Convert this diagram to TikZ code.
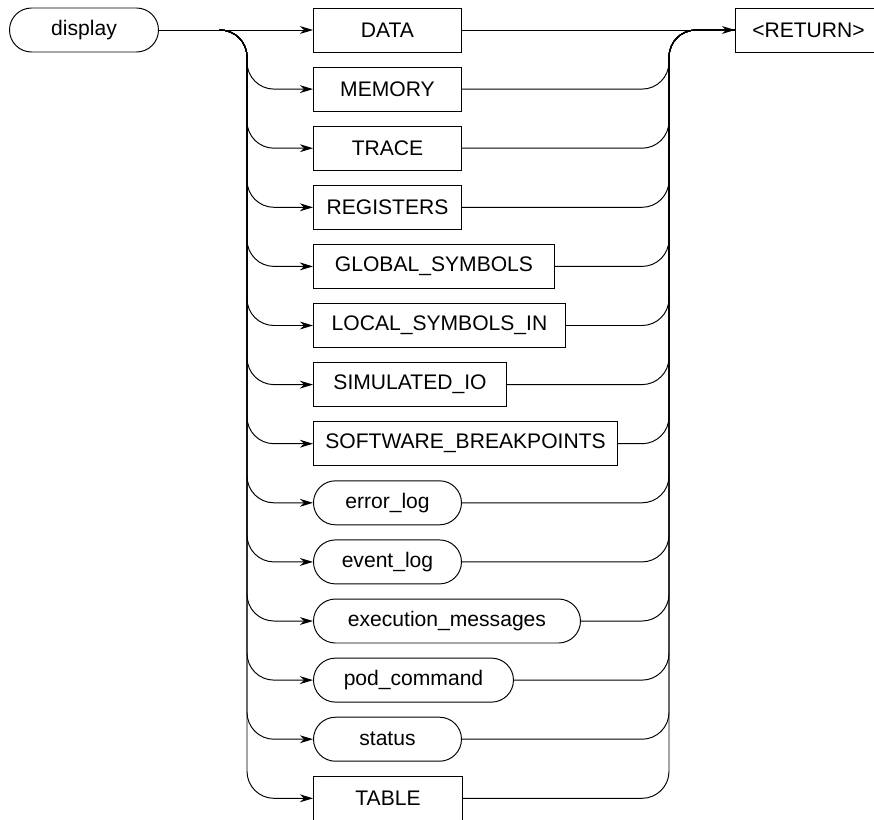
\documentclass[tikz,border=0pt]{standalone}
\usepackage{fontspec}
\setmainfont{Liberation Sans}
\usetikzlibrary{arrows.meta,positioning}
\tikzset{>={Stealth[length=7.5pt,width=4.5pt]},every node/.style={font=\fontsize{12}{14}\selectfont},kw/.style={draw,minimum height=.88cm,inner sep=0pt},var/.style={kw,rounded corners=.44cm},link/.style={->},wire/.style={}}

\begin{document}
\begin{tikzpicture}[x=.02cm,y=-.02cm,line width=.55pt]
\useasboundingbox (0,0) rectangle (874,819);\clip (0,0) rectangle (874,819);
\node[var,minimum width=149*.02cm] (display) at (84,30){display};
\node[kw,anchor=west,minimum width=146*.02cm] (ret) at (735,30){<RETURN>};
\coordinate (lt) at (219,30);\coordinate (lb) at (247,30);\coordinate (rb) at (669,30);
\foreach \n/\t/\s/\w [count=\i from 0] in {data/DATA/kw/148,memory/MEMORY/kw/148,trace/TRACE/kw/148,registers/REGISTERS/kw/148,global/GLOBAL\_SYMBOLS/kw/241,local/LOCAL\_SYMBOLS\_IN/kw/252,simio/SIMULATED\_IO/kw/193,swbrk/SOFTWARE\_BREAKPOINTS/kw/304,errlog/error\_log/var/148,evtlog/event\_log/var/148,execmsg/execution\_messages/var/267,podcmd/pod\_command/var/200,status/status/var/148,table/TABLE/kw/149}{\node[\s,anchor=west,minimum width=\w*.02cm] (\n) at (313,30+59.1*\i){\t};}
\draw[link] (display) -- (data);\draw[link] (data) -- (ret);
\foreach \n in {memory,trace,registers,global,local,simio,swbrk,errlog,evtlog,execmsg,podcmd,status,table}{\draw[link,rounded corners=.54cm] (lt) -| (lb|-\n) -- (\n);\draw[wire,rounded corners=.54cm] (\n) -| (rb|-ret) -- (ret);}
\end{tikzpicture}
\end{document}
